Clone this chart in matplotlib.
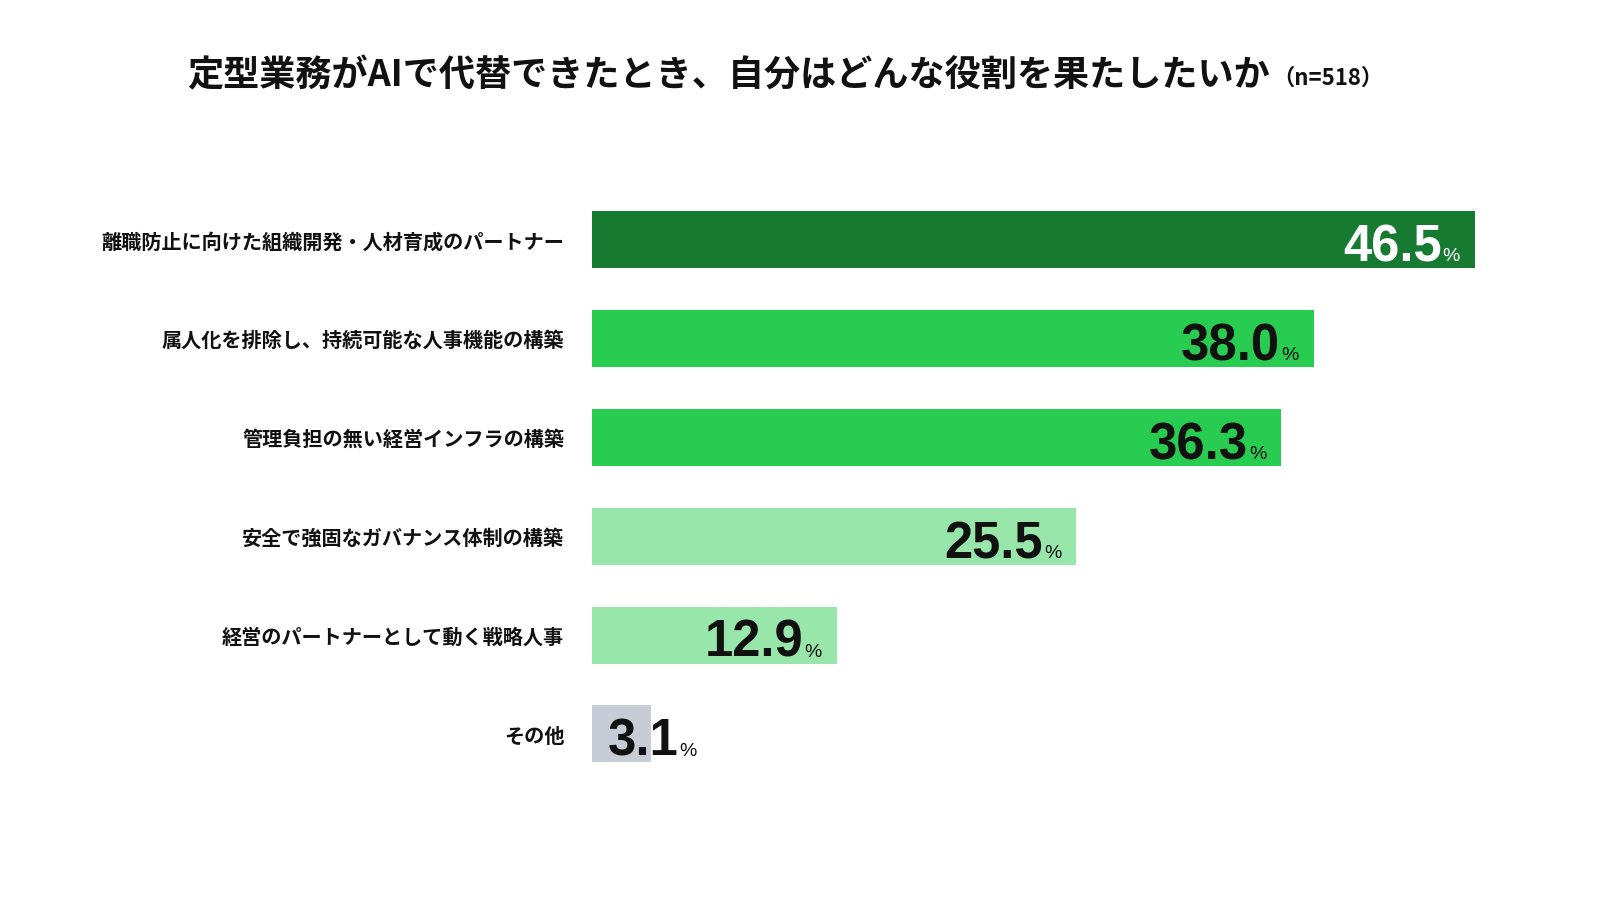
import matplotlib
matplotlib.use("Agg")
import matplotlib.pyplot as plt
from matplotlib.transforms import offset_copy

plt.rcParams["font.family"] = ["Noto Sans CJK JP", "DejaVu Sans"]

# データ
categories = [
    "離職防止に向けた組織開発・人材育成のパートナー",
    "属人化を排除し、持続可能な人事機能の構築",
    "管理負担の無い経営インフラの構築",
    "安全で強固なガバナンス体制の構築",
    "経営のパートナーとして動く戦略人事",
    "その他",
]
values = [46.5, 38.0, 36.3, 25.5, 12.9, 3.1]
colors = ["#177A31", "#28CC50", "#28CC50", "#99E6AA", "#99E6AA", "#C8CCD6"]
text_colors = ["white", "#111111", "#111111", "#111111", "#111111", "#111111"]

title = "定型業務がAIで代替できたとき、自分はどんな役割を果たしたいか"
n_label = "（n=518）"

DPI = 100
fig = plt.figure(figsize=(16, 9), dpi=DPI)
ax = fig.add_axes([592 / 1600, 116.6 / 900, 949.5 / 1600, 0.659])

ypos = list(range(len(values)))
ax.barh(ypos, values, height=0.577, color=colors, edgecolor="none")
ax.set_xlim(0, 50)
ax.set_ylim(len(values) - 0.5, -0.5)

ax.set_yticks(ypos)
ax.set_yticklabels(categories, fontsize=14.5, fontweight="bold", color="#111111")
ax.tick_params(axis="y", length=0, pad=20)
ax.set_xticks([])
for s in ax.spines.values():
    s.set_visible(False)

# 数値ラベル（数字 + 小さい%）
fig.canvas.draw()
renderer = fig.canvas.get_renderer()
num_font = ["Liberation Sans", "DejaVu Sans"]
for i, v in enumerate(values):
    if v >= 5:
        # 棒の右端から15px内側に「%」を右寄せ
        pct = ax.text(v, i + 0.22, "%", ha="right", va="baseline", fontsize=14,
                      family=num_font, color=text_colors[i],
                      transform=offset_copy(ax.transData, fig=fig, x=-15, y=0, units="dots"))
        w = pct.get_window_extent(renderer).width
        ax.text(v, i + 0.22, f"{v:.1f}", ha="right", va="baseline", fontsize=36.5,
                fontweight="bold", family=num_font, color=text_colors[i],
                transform=offset_copy(ax.transData, fig=fig, x=-15 - w - 1, y=0, units="dots"))
    else:
        num = ax.text(0, i + 0.22, f"{v:.1f}", ha="left", va="baseline", fontsize=36.5,
                      fontweight="bold", family=num_font, color=text_colors[i],
                      transform=offset_copy(ax.transData, fig=fig, x=16, y=0, units="dots"))
        w = num.get_window_extent(renderer).width
        ax.text(0, i + 0.22, "%", ha="left", va="baseline", fontsize=14,
                family=num_font, color=text_colors[i],
                transform=offset_copy(ax.transData, fig=fig, x=16 + w + 1, y=0, units="dots"))

# タイトル
fig.text(1270 / 1600, 1 - 76 / 900, title, ha="right", va="center",
         fontsize=26, fontweight="bold", color="#111111")
fig.text(1272 / 1600, 1 - 78 / 900, n_label, ha="left", va="center",
         fontsize=16, fontweight="bold", color="#111111")

fig.savefig("out.png", dpi=DPI, facecolor="white")
